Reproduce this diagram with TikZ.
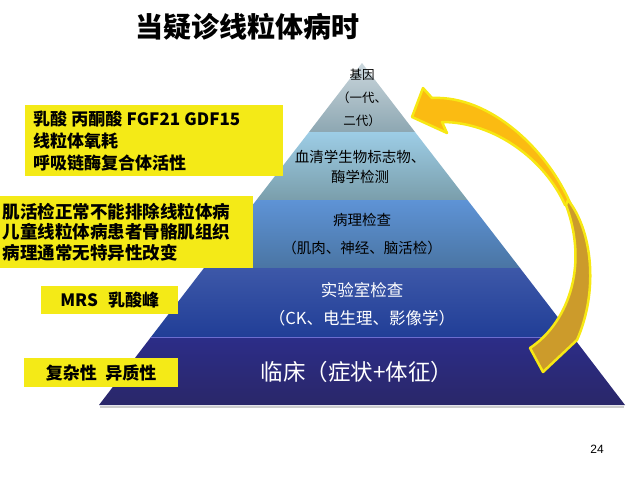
\documentclass[tikz,border=0pt]{standalone}
\usepackage{fontspec}
\setmainfont{Noto Sans CJK SC}
\newfontfamily\pagefont{Liberation Sans}

\definecolor{boxyellow}{HTML}{F4EA17}
\definecolor{rimyellow}{HTML}{F7E814}
\definecolor{arrowgold}{HTML}{FBBB12}
\definecolor{arrowdark}{HTML}{CC9B2B}
\definecolor{geneTop}{HTML}{CAD6DC}
\definecolor{geneBot}{HTML}{8DA7B2}
\definecolor{serumTop}{HTML}{9DCDE6}
\definecolor{serumBot}{HTML}{7A9EAB}
\definecolor{pathoTop}{HTML}{5E93D6}
\definecolor{pathoBot}{HTML}{4A75A3}
\definecolor{labTop}{HTML}{3D58A8}
\definecolor{labBot}{HTML}{213E97}
\definecolor{clinTop}{HTML}{2C2D88}
\definecolor{clinBot}{HTML}{2A2769}

\begin{document}
\begin{tikzpicture}[x=1pt, y=-1pt,
    ybox/.style={fill=boxyellow, inner sep=0pt, text=black,
        font=\bfseries\fontsize{17}{22}\selectfont},
    lvltext/.style={align=center, inner sep=0pt},
    arrowface/.style={draw=rimyellow, line width=2.5pt, line join=round}]
    \useasboundingbox (0,0) rectangle (640,480);

    \node[font=\bfseries\fontsize{28}{28}\selectfont] (title) at (247,27) {当疑诊线粒体病时};

    % pyramid, top to bottom
    \shade[top color=geneTop, bottom color=geneBot]
        (362,63) -- (415,132) -- (309,132) -- cycle;
    \shade[top color=serumTop, bottom color=serumBot]
        (309,132) -- (415,132) -- (467.5,200) -- (256.5,200) -- cycle;
    \shade[top color=pathoTop, bottom color=pathoBot]
        (256.5,200) -- (467.5,200) -- (520,268) -- (204,268) -- cycle;
    \shade[top color=labTop, bottom color=labBot]
        (204,268) -- (520,268) -- (573,337) -- (151,337) -- cycle;
    \shade[top color=clinTop, bottom color=clinBot]
        (151,337) -- (573,337) -- (625,405) -- (99,405) -- cycle;
    \draw[blue!40!white, opacity=0.6, line width=0.8pt] (151,337) -- (573,337);
    \draw[gray!40, line width=2pt] (100,407) -- (624,407);

    \node[lvltext, font=\fontsize{12.5}{23}\selectfont] (gene) at (362,98) {基因\\（一代、\\二代）};
    \node[lvltext, font=\fontsize{14.5}{20}\selectfont] (serum) at (360,167) {血清学生物标志物、\\酶学检测};
    \node[lvltext, font=\fontsize{14.5}{28}\selectfont] (patho) at (362,234) {病理检查\\（肌肉、神经、脑活检）};
    \node[lvltext, text=white, font=\fontsize{16.5}{28}\selectfont] (lab) at (362,304) {实验室检查\\（CK、电生理、影像学）};
    \node[lvltext, text=white, font=\fontsize{22.5}{22}\selectfont] (clinic) at (357,372) {临床（症状+体征）};

    % notes on the left
    \node[ybox, anchor=north west, minimum width=258pt, minimum height=71pt,
        text width=242pt, inner xsep=8pt, align=left] (bio) at (25,105)
        {乳酸\hspace{0.25em}丙酮酸\hspace{0.25em}FGF21\hspace{0.25em}GDF15\\线粒体氧耗\\呼吸链酶复合体活性};
    \node[ybox, anchor=north west, minimum width=253pt, minimum height=72pt,
        text width=248pt, inner xsep=2.5pt, align=left,
        font=\bfseries\fontsize{17.5}{20.5}\selectfont] (biopsy) at (0,196)
        {肌活检正常不能排除线粒体病\\儿童线粒体病患者骨骼肌组织\\病理通常无特异性改变};
    \node[ybox, anchor=north west, minimum width=137pt, minimum height=28pt] (mrs) at (41,286)
        {MRS\hspace{0.6em}乳酸峰};
    \node[ybox, anchor=north west, minimum width=154pt, minimum height=29pt] (hetero) at (24,358)
        {复杂性\hspace{0.5em}异质性};

    % curved arrow back to the top
    \filldraw[arrowface, fill=arrowgold]
        (432,98) .. controls (490,95) and (548,150) .. (571,205)
        -- (565,205) .. controls (545,160) and (495,122) .. (442,122)
        -- (447,133) -- (412,117) -- (423,88) -- cycle;
    \filldraw[arrowface, fill=arrowdark]
        (568,200) .. controls (592,230) and (599,290) .. (577,340)
        -- (543,372) -- (530,348)
        .. controls (565,325) and (590,270) .. (566,205) -- cycle;

    \node[font=\pagefont\fontsize{12}{12}\selectfont] (page) at (597,449) {24};
\end{tikzpicture}
\end{document}
